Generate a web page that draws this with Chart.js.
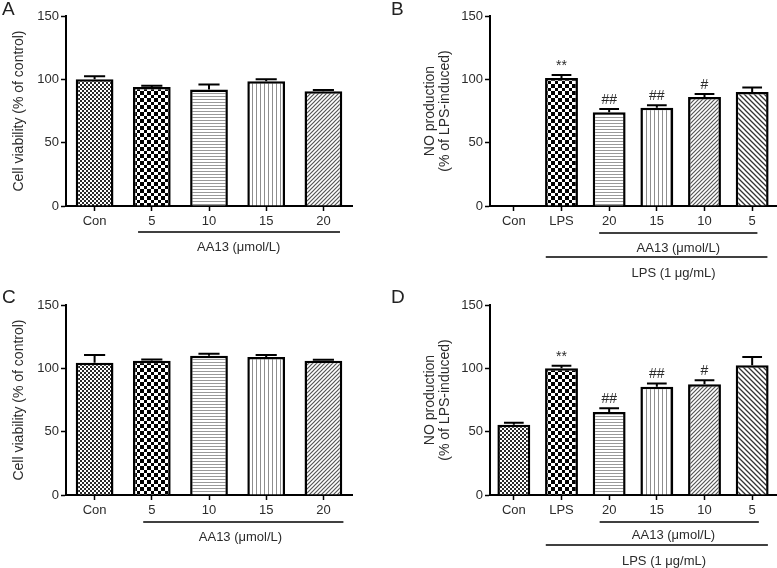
<!DOCTYPE html>
<html>
<head>
<meta charset="utf-8">
<script src="https://cdn.jsdelivr.net/npm/chart.js@4.4.0/dist/chart.umd.min.js"></script>
<style>
  html, body { margin: 0; padding: 0; background: #fff; }
  #wrap { position: relative; width: 777px; height: 568px; overflow: hidden; font-family: 'Liberation Sans', Arial, sans-serif; }
  canvas { position: absolute; }
  .letter { position: absolute; font-size: 19px; line-height: 18px; color: #222; }
</style>
</head>
<body>
<div id="wrap">
  <canvas id="chartA" style="left:0;top:0" width="388" height="284"></canvas>
  <canvas id="chartB" style="left:390px;top:0" width="387" height="284"></canvas>
  <canvas id="chartC" style="left:0;top:284px" width="388" height="284"></canvas>
  <canvas id="chartD" style="left:390px;top:284px" width="387" height="284"></canvas>
  <div class="letter" style="left:2px;top:0">A</div>
  <div class="letter" style="left:391px;top:0">B</div>
  <div class="letter" style="left:2px;top:288px">C</div>
  <div class="letter" style="left:391px;top:288px">D</div>
</div>
<script>
// categories
const catsViability = ['Con', '5', '10', '15', '20'];
const catsNO = ['Con', 'LPS', '20', '15', '10', '5'];
const yTicks = [0, 50, 100, 150];

// A: cell viability
const viabilityA = [100, 94, 92, 98.5, 90.5];
const viabilityErrA = [2.5, 1, 4, 1.5, 1];
// B: NO production
const noProdB = [null, 101, 74, 77.5, 86, 90];
const noProdErrB = [null, 2.5, 2.5, 2, 2.5, 3.5];
// C: cell viability
const viabilityC = [104.5, 106, 110, 109, 106];
const viabilityErrC = [6, 1, 1.5, 1.5, 0.7];
// D: NO production
const noProdD = [55.5, 100, 65.5, 85.5, 87.5, 102.5];
const noProdErrD = [1.5, 2, 3, 2.5, 3, 6.5];
// significance marks over NO bars
const marksNO = ['', '**', '##', '##', '#', ''];

const TXT = '#2b2b2b';
const FONT = "'Liberation Sans', Arial, sans-serif";

// little tiles for the GraphPad-style fills
function tile(w, h, draw) {
  const c = document.createElement('canvas');
  c.width = w; c.height = h;
  const g = c.getContext('2d');
  g.fillStyle = '#fff';
  g.fillRect(0, 0, w, h);
  draw(g, w, h);
  return g.createPattern(c, 'repeat');
}
const fills = {
  fine: tile(4, 4, g => { g.fillStyle = '#2a2a2a'; g.fillRect(0, 0, 2, 2); g.fillRect(2, 2, 2, 2); }),
  big: tile(7, 7, g => { g.fillStyle = '#000'; g.fillRect(0, 0, 4, 4); g.fillRect(4, 4, 3, 3); }),
  hline: tile(4, 3, g => { g.fillStyle = '#999'; g.fillRect(0, 0, 4, 1); }),
  vline: tile(4, 4, g => { g.fillStyle = '#8e8e8e'; g.fillRect(0, 0, 1, 4); }),
  diagUp: tile(4, 4, (g, s) => {
    g.strokeStyle = '#555'; g.lineWidth = 1.2; g.beginPath();
    g.moveTo(0, s); g.lineTo(s, 0);
    g.moveTo(-1, 1); g.lineTo(1, -1);
    g.moveTo(s - 1, s + 1); g.lineTo(s + 1, s - 1);
    g.stroke();
  }),
  diagDown: tile(5, 5, (g, s) => {
    g.strokeStyle = '#333'; g.lineWidth = 1.3; g.beginPath();
    g.moveTo(0, 0); g.lineTo(s, s);
    g.moveTo(-1, s - 1); g.lineTo(1, s + 1);
    g.moveTo(s - 1, -1); g.lineTo(s + 1, 1);
    g.stroke();
  })
};

function makePanel(id, o) {
  const extras = {
    id: 'extras' + id,
    afterDatasetsDraw(chart) {
      const c = chart.ctx, y = chart.scales.y;
      const meta = chart.getDatasetMeta(0);
      c.save();
      c.strokeStyle = '#000';
      c.lineWidth = 2;
      c.fillStyle = TXT;
      c.font = '14px ' + FONT;
      c.textAlign = 'center';
      c.textBaseline = 'bottom';
      meta.data.forEach((bar, i) => {
        const v = o.vals[i], e = o.errs[i];
        if (v == null || e == null) return;
        const top = y.getPixelForValue(v + e);
        const half = bar.width * o.capFrac / 2;
        c.beginPath();
        c.moveTo(bar.x, bar.y);
        c.lineTo(bar.x, top);
        c.moveTo(bar.x - half, top);
        c.lineTo(bar.x + half, top);
        c.stroke();
        const m = o.marks && o.marks[i];
        if (m) c.fillText(m, bar.x, top - 2);
      });
      c.restore();
    },
    afterDraw(chart) {
      const c = chart.ctx, x = chart.scales.x, bottom = chart.chartArea.bottom;
      c.save();
      c.strokeStyle = '#000';
      c.lineWidth = 1.6;
      c.fillStyle = TXT;
      c.font = '13px ' + FONT;
      c.textAlign = 'center';
      c.textBaseline = 'middle';
      o.groups.forEach(g => {
        const ly = bottom + g.lineDy;
        c.beginPath();
        c.moveTo(x.getPixelForValue(g.from), ly);
        c.lineTo(x.getPixelForValue(g.to), ly);
        c.stroke();
        c.fillText(g.text, x.getPixelForValue(g.at), bottom + g.textDy);
      });
      c.restore();
    }
  };

  return new Chart(document.getElementById(id).getContext('2d'), {
    type: 'bar',
    data: {
      labels: o.cats,
      datasets: [{
        data: o.vals,
        backgroundColor: o.fills.map(k => fills[k]),
        borderColor: '#000',
        borderWidth: 2.5,
        borderSkipped: 'start',
        barPercentage: o.barPct,
        categoryPercentage: 1
      }]
    },
    options: {
      responsive: false,
      animation: false,
      events: [],
      layout: { padding: o.pad },
      plugins: { legend: { display: false }, tooltip: { enabled: false } },
      scales: {
        x: {
          offset: true,
          grid: { offset: false, drawOnChartArea: false, drawTicks: true, tickLength: 5, tickColor: '#000', tickWidth: 1.5 },
          border: { display: true, color: '#000', width: 2 },
          ticks: { color: TXT, font: { family: FONT, size: 13 }, padding: 3, maxRotation: 0, autoSkip: false },
          afterFit: s => { s.height = o.xH; }
        },
        y: {
          min: 0,
          max: 150,
          afterBuildTicks: s => { s.ticks = yTicks.map(v => ({ value: v })); },
          grid: { drawOnChartArea: false, drawTicks: true, tickLength: 5, tickColor: '#000', tickWidth: 1.5 },
          border: { display: true, color: '#000', width: 2 },
          ticks: { color: TXT, font: { family: FONT, size: 13 }, padding: 2 },
          title: {
            display: true,
            text: o.yTitle,
            color: TXT,
            font: { family: FONT, size: 14, lineHeight: o.titleLH },
            padding: { top: o.titlePad, bottom: 0 }
          },
          afterFit: s => { s.width = o.yW; }
        }
      }
    },
    plugins: [extras]
  });
}

const viabilityTitle = 'Cell viability (% of control)';
const noTitle = ['NO production', '(% of LPS-induced)'];
const fillsViability = ['fine', 'big', 'hline', 'vline', 'diagUp'];
const fillsNO = ['fine', 'big', 'hline', 'vline', 'diagUp', 'diagDown'];

makePanel('chartA', {
  cats: catsViability, vals: viabilityA, errs: viabilityErrA, marks: null,
  fills: fillsViability, barPct: 0.66, capFrac: 0.56,
  pad: { top: 16, right: 36, left: 0, bottom: 0 }, yW: 66, xH: 78,
  yTitle: viabilityTitle, titleLH: 1, titlePad: 12,
  groups: [{ from: 0.76, to: 4.29, at: 2.52, text: 'AA13 (μmol/L)', lineDy: 26, textDy: 41 }]
});
makePanel('chartB', {
  cats: catsNO, vals: noProdB, errs: noProdErrB, marks: marksNO,
  fills: fillsNO, barPct: 0.69, capFrac: 0.6,
  pad: { top: 16, right: 1, left: 0, bottom: 0 }, yW: 100, xH: 78,
  yTitle: noTitle, titleLH: 15 / 14, titlePad: 32.5,
  groups: [
    { from: 1.79, to: 5.11, at: 3.45, text: 'AA13 (μmol/L)', lineDy: 27, textDy: 42 },
    { from: 0.67, to: 5.32, at: 3.35, text: 'LPS (1 μg/mL)', lineDy: 51, textDy: 67 }
  ]
});
makePanel('chartC', {
  cats: catsViability, vals: viabilityC, errs: viabilityErrC, marks: null,
  fills: fillsViability, barPct: 0.66, capFrac: 0.56,
  pad: { top: 21, right: 36, left: 0, bottom: 0 }, yW: 66, xH: 73,
  yTitle: viabilityTitle, titleLH: 1, titlePad: 12,
  groups: [{ from: 0.85, to: 4.35, at: 2.55, text: 'AA13 (μmol/L)', lineDy: 27, textDy: 42 }]
});
makePanel('chartD', {
  cats: catsNO, vals: noProdD, errs: noProdErrD, marks: marksNO,
  fills: fillsNO, barPct: 0.69, capFrac: 0.6,
  pad: { top: 21, right: 1, left: 0, bottom: 0 }, yW: 100, xH: 73,
  yTitle: noTitle, titleLH: 15 / 14, titlePad: 32.5,
  groups: [
    { from: 1.8, to: 5.14, at: 3.35, text: 'AA13 (μmol/L)', lineDy: 27, textDy: 40 },
    { from: 0.67, to: 5.33, at: 3.15, text: 'LPS (1 μg/mL)', lineDy: 50, textDy: 66 }
  ]
});
</script>
</body>
</html>
